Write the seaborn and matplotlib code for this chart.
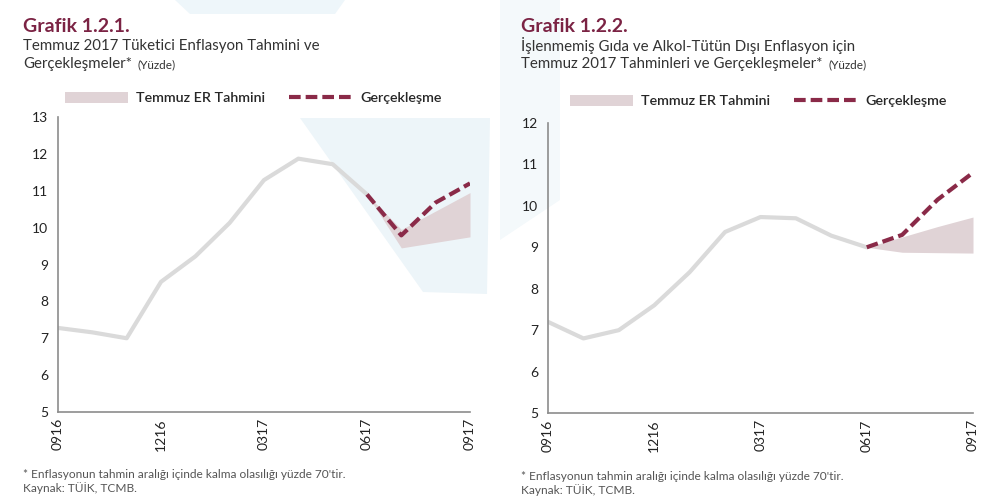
import numpy as np
import pandas as pd
import matplotlib
matplotlib.use("Agg")
import matplotlib.pyplot as plt
from matplotlib.patches import Patch, Polygon
from matplotlib.lines import Line2D
import seaborn as sns

# months 09/16 .. 09/17
months = ["0916", "1016", "1116", "1216", "0117", "0217", "0317",
          "0417", "0517", "0617", "0717", "0817", "0917"]
tick_labels = ["0916", "1216", "0317", "0617", "0917"]

# Grafik 1.2.1 - TÜFE
cpi_hist = [7.28, 7.16, 7.00, 8.53, 9.22, 10.13, 11.29, 11.87, 11.72, 10.90]
cpi_actual = [10.90, 9.79, 10.68, 11.20]
cpi_band_low = [10.90, 9.45, 9.60, 9.75]
cpi_band_high = [10.90, 9.95, 10.45, 10.95]

# Grafik 1.2.2 - işlenmemiş gıda ve alkol-tütün dışı
core_hist = [7.20, 6.80, 7.00, 7.60, 8.40, 9.37, 9.73, 9.70, 9.28, 9.00]
core_actual = [9.00, 9.30, 10.15, 10.80]
core_band_low = [9.00, 8.88, 8.87, 8.86]
core_band_high = [9.00, 9.25, 9.50, 9.73]

sns.set_theme(style="white")
plt.rcParams['font.family'] = ['Lato', 'DejaVu Sans']

maroon = "#7b2344"
dash_col = "#8a2a48"
line_col = "#dadada"
band_col = "#e0d3d6"
txt_col = "#333333"
W, H = 991, 497

fig = plt.figure(figsize=(W / 100, H / 100), dpi=100)


def px(x, y):
    return (x / W, 1 - y / H)


# faint watermark shapes in the background
for pts, col in [([(300, 118), (423, 292), (487, 294), (490, 118)], "#edf5f9"),
                 ([(175, 0), (345, 0), (335, 14), (190, 14)], "#eef6fa"),
                 ([(500, 0), (560, 0), (560, 200), (500, 240)], "#f4f9fb")]:
    fig.patches.append(Polygon([px(*p) for p in pts], closed=True, transform=fig.transFigure,
                               facecolor=col, edgecolor="none", zorder=-1))


def draw_panel(rect, hist, actual, low, high, ylim, title, sub1, sub2, leg_x, leg_y, tx, fy):
    ax = fig.add_axes(rect)
    ax.set_facecolor("none")
    idx = np.arange(len(months))
    n = len(hist)
    start = n - 1
    df_hist = pd.DataFrame({"x": idx[:n], "y": hist})
    df_act = pd.DataFrame({"x": idx[start:start + len(actual)], "y": actual})
    ax.fill_between(idx[start:start + len(low)], low, high, color=band_col, lw=0, zorder=1)
    sns.lineplot(data=df_hist, x="x", y="y", ax=ax, color=line_col, lw=3, zorder=2)
    sns.lineplot(data=df_act, x="x", y="y", ax=ax, color=dash_col, lw=3, zorder=3)
    ax.lines[-1].set_dashes((2.8, 1.2))
    ax.set_xlim(0, len(months) - 1)
    ax.set_ylim(*ylim)
    ax.set_yticks(range(ylim[0], ylim[1] + 1))
    ax.set_xticks([months.index(t) for t in tick_labels])
    ax.set_xticklabels(tick_labels, rotation=90)
    ax.set_xlabel("")
    ax.set_ylabel("")
    for s in ["top", "right"]:
        ax.spines[s].set_visible(False)
    for s in ["left", "bottom"]:
        ax.spines[s].set_color("#8c8c8c")
        ax.spines[s].set_linewidth(1.2)
    ax.tick_params(axis="both", length=3, width=1, color="#8c8c8c", direction="inout",
                   labelsize=10, labelcolor="#222222", pad=3)
    ax.tick_params(axis="y", direction="out", pad=4)
    handles = [Patch(facecolor=band_col, edgecolor="none"),
               Line2D([0], [0], color=dash_col, lw=3, dashes=(2.8, 1.2))]
    ax.legend(handles, ["Temmuz ER Tahmini", "Gerçekleşme"], loc="center left",
              bbox_to_anchor=(leg_x, leg_y), ncol=2, frameon=False,
              prop={"size": 10.3, "weight": "semibold"},
              handlelength=4.4, handleheight=0.9, columnspacing=1.7, handletextpad=0.55,
              borderaxespad=0, borderpad=0)
    fig.text(tx / W, 1 - 26 / H, title, color=maroon, fontsize=14, fontweight="bold", va="center")
    fig.text(tx / W, 1 - 46 / H, sub1, color=txt_col, fontsize=10.8, va="center")
    t2 = fig.text(tx / W, 1 - 64 / H, sub2, color=txt_col, fontsize=10.8, va="center")
    ax.annotate("(Yüzde)", xy=(1, 0.45), xycoords=t2, xytext=(4, 0), textcoords="offset points",
                va="center", fontsize=8.5, color=txt_col, annotation_clip=False)
    fig.text(tx / W, 1 - fy / H, "* Enflasyonun tahmin aralığı içinde kalma olasılığı yüzde 70'tir.",
             color="#555555", fontsize=8.6, va="center")
    fig.text(tx / W, 1 - (fy + 13) / H, "Kaynak: TÜİK, TCMB.", color="#555555", fontsize=8.6,
             va="center")
    return ax


draw_panel([58 / W, 1 - 412 / H, 412 / W, 295 / H], cpi_hist, cpi_actual, cpi_band_low,
           cpi_band_high, (5, 13), "Grafik 1.2.1.",
           "Temmuz 2017 Tüketici Enflasyon Tahmini ve", "Gerçekleşmeler*",
           7 / 412, 1 + 19 / 295, 23, 475)
draw_panel([548 / W, 1 - 413 / H, 425 / W, 290 / H], core_hist, core_actual, core_band_low,
           core_band_high, (5, 12), "Grafik 1.2.2.",
           "İşlenmemiş Gıda ve Alkol-Tütün Dışı Enflasyon için",
           "Temmuz 2017 Tahminleri ve Gerçekleşmeler*",
           22 / 425, 1 + 22 / 290, 521, 477)

fig.savefig("out.png", dpi=100)
